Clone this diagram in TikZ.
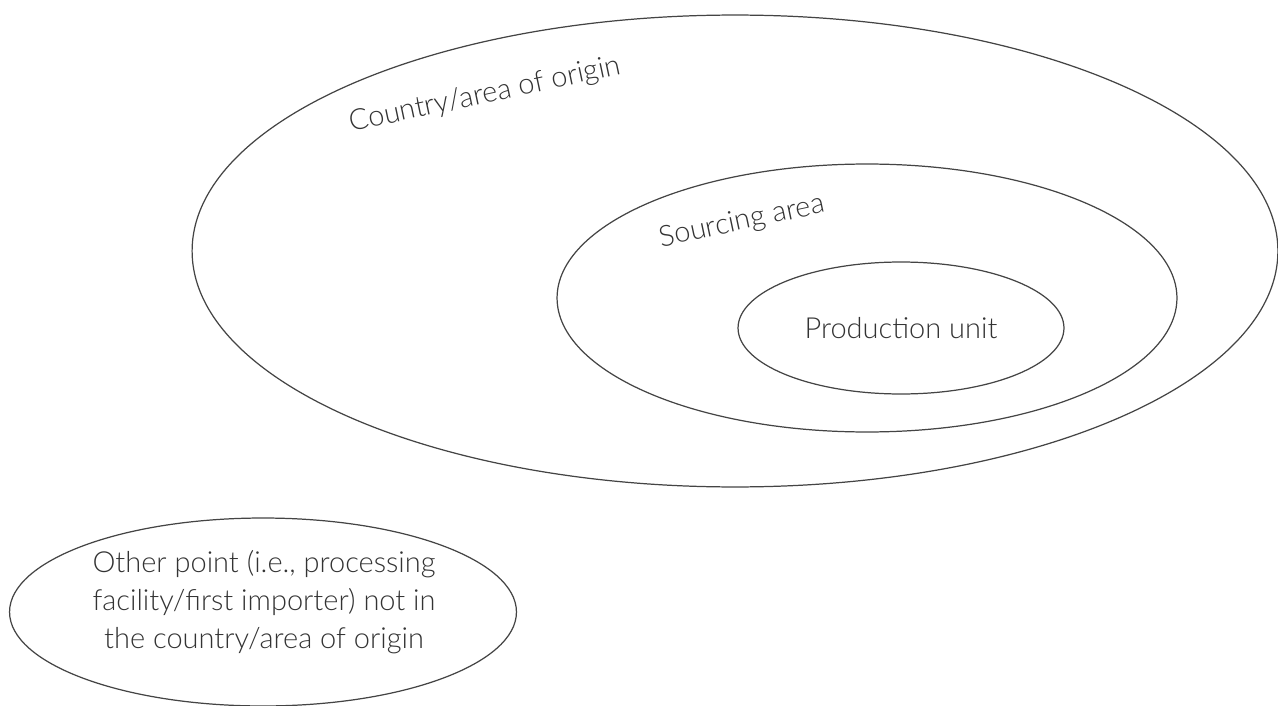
\documentclass[tikz,border=0pt]{standalone}
\usepackage{fontspec}
\setmainfont{Lato}[UprightFont=* Light]
\usepackage{xcolor}
\usepackage{tikz}
\usetikzlibrary{shapes.geometric, positioning}
\definecolor{inkline}{HTML}{444444}
\definecolor{inktext}{HTML}{333333}
\tikzstyle{zone} = [ellipse, draw=inkline, line width=0.7pt, inner sep=0pt]
\tikzstyle{zonetext} = [text=inktext, font=\fontsize{16.5}{21.8}\selectfont]
\tikzset{every node/.style={align=center}}

\begin{document}
\begin{tikzpicture}[x=0.02cm, y=-0.02cm]
    \useasboundingbox (0,0) rectangle (1278,706);

    \node (country) [zone, minimum width=21.72cm, minimum height=9.44cm] at (735,251) {};
    \node (sourcing) [zone, minimum width=12.4cm, minimum height=5.36cm] at (867,298) {};
    \node (unit) [zone, zonetext, minimum width=6.52cm, minimum height=2.64cm] at (901,328) {Production unit};
    \node (other) [zone, minimum width=10.14cm, minimum height=3.76cm] at (263,612) {};

    \node (countryLbl) [zonetext, rotate=12] at (485,95) {Country/area of origin};
    \node (sourcingLbl) [zonetext, rotate=12] at (742,222) {Sourcing area};
    \node (otherLbl) [zonetext] at (264,602) {Other point (i.e., processing\\facility/first importer) not in\\the country/area of origin};
\end{tikzpicture}
\end{document}
